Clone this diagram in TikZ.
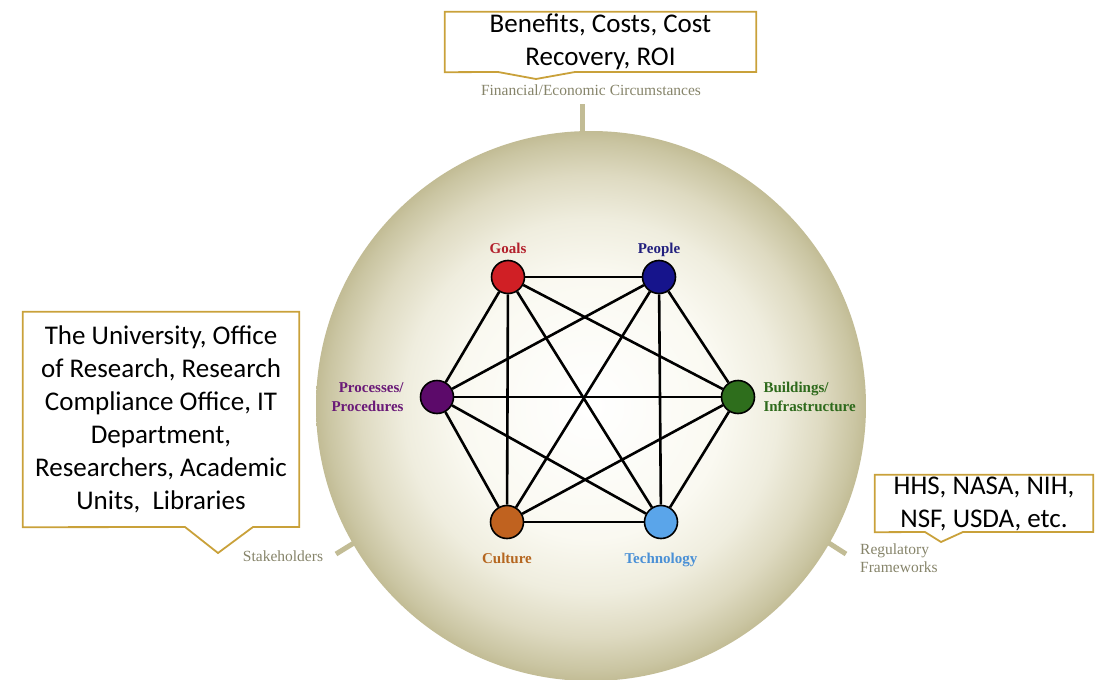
\documentclass[tikz,border=0pt]{standalone}
\usepackage{fontspec}
\setmainfont{Liberation Serif}
\newfontfamily\calibri{Carlito}
\usepackage{tikz}

\definecolor{globetan}{HTML}{C2BC95}
\definecolor{globeA}{HTML}{FAF9F1}
\definecolor{globeB}{HTML}{EFEDDE}
\definecolor{globeC}{HTML}{DEDAC1}
\definecolor{globeD}{HTML}{CAC5A2}
\definecolor{calloutgold}{HTML}{C9A13A}
\definecolor{ctxgray}{HTML}{86846A}
\definecolor{goalsc}{HTML}{D01F25}
\definecolor{goalst}{HTML}{B3202C}
\definecolor{peoplec}{HTML}{16148C}
\definecolor{peoplet}{HTML}{22207E}
\definecolor{bldgc}{HTML}{2E6E1C}
\definecolor{bldgt}{HTML}{2E6A1C}
\definecolor{techc}{HTML}{5AA5EA}
\definecolor{techt}{HTML}{4A90D6}
\definecolor{culturec}{HTML}{C0621F}
\definecolor{culturet}{HTML}{B5661F}
\definecolor{procc}{HTML}{5C0A6A}
\definecolor{proct}{HTML}{6A1A78}

\pgfdeclareradialshading{globeshade}{\pgfpoint{0bp}{0bp}}{%
  color(0bp)=(white); color(12bp)=(globeA); color(17bp)=(globeB);
  color(21bp)=(globeC); color(24bp)=(globeD); color(25bp)=(globetan); color(50bp)=(globetan)}

\begin{document}
\begin{tikzpicture}[x=1pt,y=-1pt,
    hub/.style={circle,draw=black,line width=1.6pt,minimum size=33pt,inner sep=0pt},
    lbl/.style={font=\bfseries\fontsize{15}{19}\selectfont,inner sep=0pt},
    onelbl/.style={lbl,text height=10.5pt,text depth=3.5pt},
    link/.style={line width=2.6pt,black},
    boxtext/.style={font=\calibri\fontsize{27}{33}\selectfont,align=center,inner sep=0pt},
    callout/.style={draw=calloutgold,line width=1.8pt,line join=miter},
    ctx/.style={text=ctxgray,font=\fontsize{15.5}{18.5}\selectfont,inner sep=0pt},
    tick/.style={line width=5pt,draw=globetan}]
        \useasboundingbox (0,0) rectangle (1098,680);
        % context ticks and globe
        \draw[tick] (582,104) -- (582,140);
        \draw[tick] (362,538) -- (336,554);
        \draw[tick] (821,538) -- (846,554);
        \shade[shading=globeshade] (591,406) circle (275pt);
        % the six elements
        \node[hub,fill=goalsc,label={[onelbl,goalst,label distance=3pt]above:Goals}] (goals) at (508,277) {};
        \node[hub,fill=peoplec,label={[onelbl,peoplet,label distance=3pt]above:People}] (people) at (659,277) {};
        \node[hub,fill=bldgc,label={[lbl,bldgt,align=left,label distance=8pt]right:Buildings/\\Infrastructure}] (bldg) at (738,397) {};
        \node[hub,fill=techc,label={[onelbl,techt,label distance=13pt]below:Technology}] (tech) at (661,522) {};
        \node[hub,fill=culturec,label={[onelbl,culturet,label distance=13pt]below:Culture}] (culture) at (507,522) {};
        \node[hub,fill=procc,label={[lbl,proct,align=right,label distance=16pt]left:Processes/\\Procedures}] (proc) at (437,397) {};
        \foreach \a/\b in {goals/people,goals/bldg,goals/tech,goals/culture,goals/proc,
                           people/bldg,people/tech,people/culture,people/proc,
                           bldg/tech,bldg/culture,bldg/proc,
                           tech/culture,tech/proc,culture/proc}
            \draw[link] (\a) -- (\b);
        % outer context labels
        \node[ctx] (fin) at (591,90) {Financial/Economic Circumstances};
        \node[ctx] (stake) at (283,556) {Stakeholders};
        \node[ctx,anchor=west,align=left] (reg) at (860,558) {Regulatory\\Frameworks};
        % callouts
        \node[boxtext,minimum width=311pt,minimum height=60pt] (finbox) at (600.5,42) {Benefits, Costs, Cost\\Recovery, ROI};
        \draw[callout] (finbox.south west) |- (finbox.north east) |- (575,72) -- (536,79) -- (498,72) -- cycle;
        \node[boxtext,minimum width=276pt,minimum height=215pt] (stakebox) at (161,419.5) {The University, Office\\of Research, Research\\Compliance Office, IT\\Department,\\Researchers, Academic\\Units,\ \ Libraries};
        \draw[callout] (stakebox.south west) |- (stakebox.north east) |- (253,527) -- (218,553) -- (185,527) -- cycle;
        \node[boxtext,minimum width=218pt,minimum height=57pt] (regbox) at (984,503.5) {HHS, NASA, NIH,\\NSF, USDA, etc.};
        \draw[callout] (regbox.south west) |- (regbox.north east) |- (963,532) -- (941,542) -- (925,532) -- cycle;
\end{tikzpicture}
\end{document}
